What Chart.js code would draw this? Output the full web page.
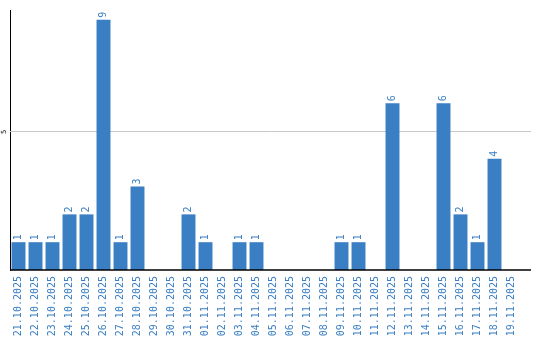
<!DOCTYPE html>
<html>
<head>
<meta charset="utf-8">
<script src="https://cdn.jsdelivr.net/npm/chart.js@4"></script>
<style>
  html, body { margin: 0; padding: 0; background: #fff; }
  #wrap { width: 540px; height: 340px; }
</style>
</head>
<body>
<div id="wrap"><canvas id="myChart"></canvas></div>
<script>
// 日付ごとの件数
const labels = ['21.10.2025','22.10.2025','23.10.2025','24.10.2025','25.10.2025','26.10.2025','27.10.2025','28.10.2025','29.10.2025','30.10.2025',
  '31.10.2025','01.11.2025','02.11.2025','03.11.2025','04.11.2025','05.11.2025','06.11.2025','07.11.2025','08.11.2025','09.11.2025',
  '10.11.2025','11.11.2025','12.11.2025','13.11.2025','14.11.2025','15.11.2025','16.11.2025','17.11.2025','18.11.2025','19.11.2025'];
const values = [1,1,1,2,2,9,1,3,0,0, 2,1,0,1,1,0,0,0,0,1, 1,0,6,0,0,6,2,1,4,0];
const yTicks = [0, 5];

const blue = '#3a7ec3';
const mono = "'DejaVu Sans Mono', 'Liberation Mono', monospace";
const extra = 11; // 右側の余白まで線を伸ばす

// 目盛り線と軸線 (右に少し伸ばす)
const linePlugin = {
    id: 'linePlugin',
    beforeDatasetsDraw(chart) {
        const ctx = chart.ctx;
        const a = chart.chartArea;
        const y = chart.scales.y;
        ctx.save();
        ctx.strokeStyle = '#c8c8c8';
        ctx.lineWidth = 1;
        yTicks.forEach(t => {
            if (t === 0) return;
            const py = Math.round(y.getPixelForValue(t)) + 0.5;
            ctx.beginPath();
            ctx.moveTo(a.left, py);
            ctx.lineTo(a.right + extra, py);
            ctx.stroke();
        });
        ctx.restore();
    },
    afterDatasetsDraw(chart) {
        const ctx = chart.ctx;
        const a = chart.chartArea;
        ctx.save();
        ctx.strokeStyle = '#000';
        ctx.lineWidth = 1.5;
        const py = Math.round(a.bottom);
        ctx.beginPath();
        ctx.moveTo(a.left, py);
        ctx.lineTo(a.right + extra, py);
        ctx.stroke();
        ctx.restore();
    }
};

// 値ラベルとY軸ラベル (縦書き)
const labelPlugin = {
    id: 'labelPlugin',
    afterDatasetsDraw(chart) {
        const ctx = chart.ctx;
        const meta = chart.getDatasetMeta(0);
        ctx.save();
        ctx.fillStyle = blue;
        ctx.font = '10px ' + mono;
        ctx.textAlign = 'left';
        ctx.textBaseline = 'middle';
        meta.data.forEach((bar, i) => {
            const v = values[i];
            if (!v) return;
            ctx.save();
            ctx.translate(bar.x, bar.y - 2);
            ctx.rotate(-Math.PI / 2);
            ctx.fillText(String(v), 0, 0);
            ctx.restore();
        });
        // Y軸の目盛り
        const y = chart.scales.y;
        ctx.fillStyle = '#000';
        ctx.font = '7px ' + mono;
        ctx.textAlign = 'center';
        yTicks.forEach(t => {
            if (t === 0) return;
            ctx.save();
            ctx.translate(4, y.getPixelForValue(t) + 1);
            ctx.rotate(-Math.PI / 2);
            ctx.fillText(String(t), 0, 0);
            ctx.restore();
        });
        ctx.restore();
    }
};

const ctx = document.getElementById('myChart').getContext('2d');
new Chart(ctx, {
    type: 'bar',
    data: {
        labels: labels,
        datasets: [{
            data: values,
            backgroundColor: blue,
            barPercentage: 0.82,
            categoryPercentage: 1.0
        }]
    },
    options: {
        responsive: true,
        maintainAspectRatio: false,
        animation: false,
        events: [],
        layout: { padding: { left: 10, right: 20, top: 10, bottom: 0 } },
        plugins: { legend: { display: false }, tooltip: { enabled: false } },
        scales: {
            x: {
                afterFit: scale => { scale.height = 70; },
                grid: { display: false, drawTicks: false },
                border: { display: false },
                ticks: {
                    color: blue,
                    font: { family: mono, size: 10 },
                    minRotation: 90,
                    maxRotation: 90,
                    autoSkip: false,
                    padding: 6
                }
            },
            y: {
                min: 0,
                max: 9.35,
                afterBuildTicks: scale => {
                    scale.ticks = yTicks.map(v => ({ value: v }));
                },
                grid: { display: false, drawTicks: false },
                border: { color: '#000', width: 1 },
                ticks: { display: false }
            }
        }
    },
    plugins: [linePlugin, labelPlugin]
});
</script>
</body>
</html>
